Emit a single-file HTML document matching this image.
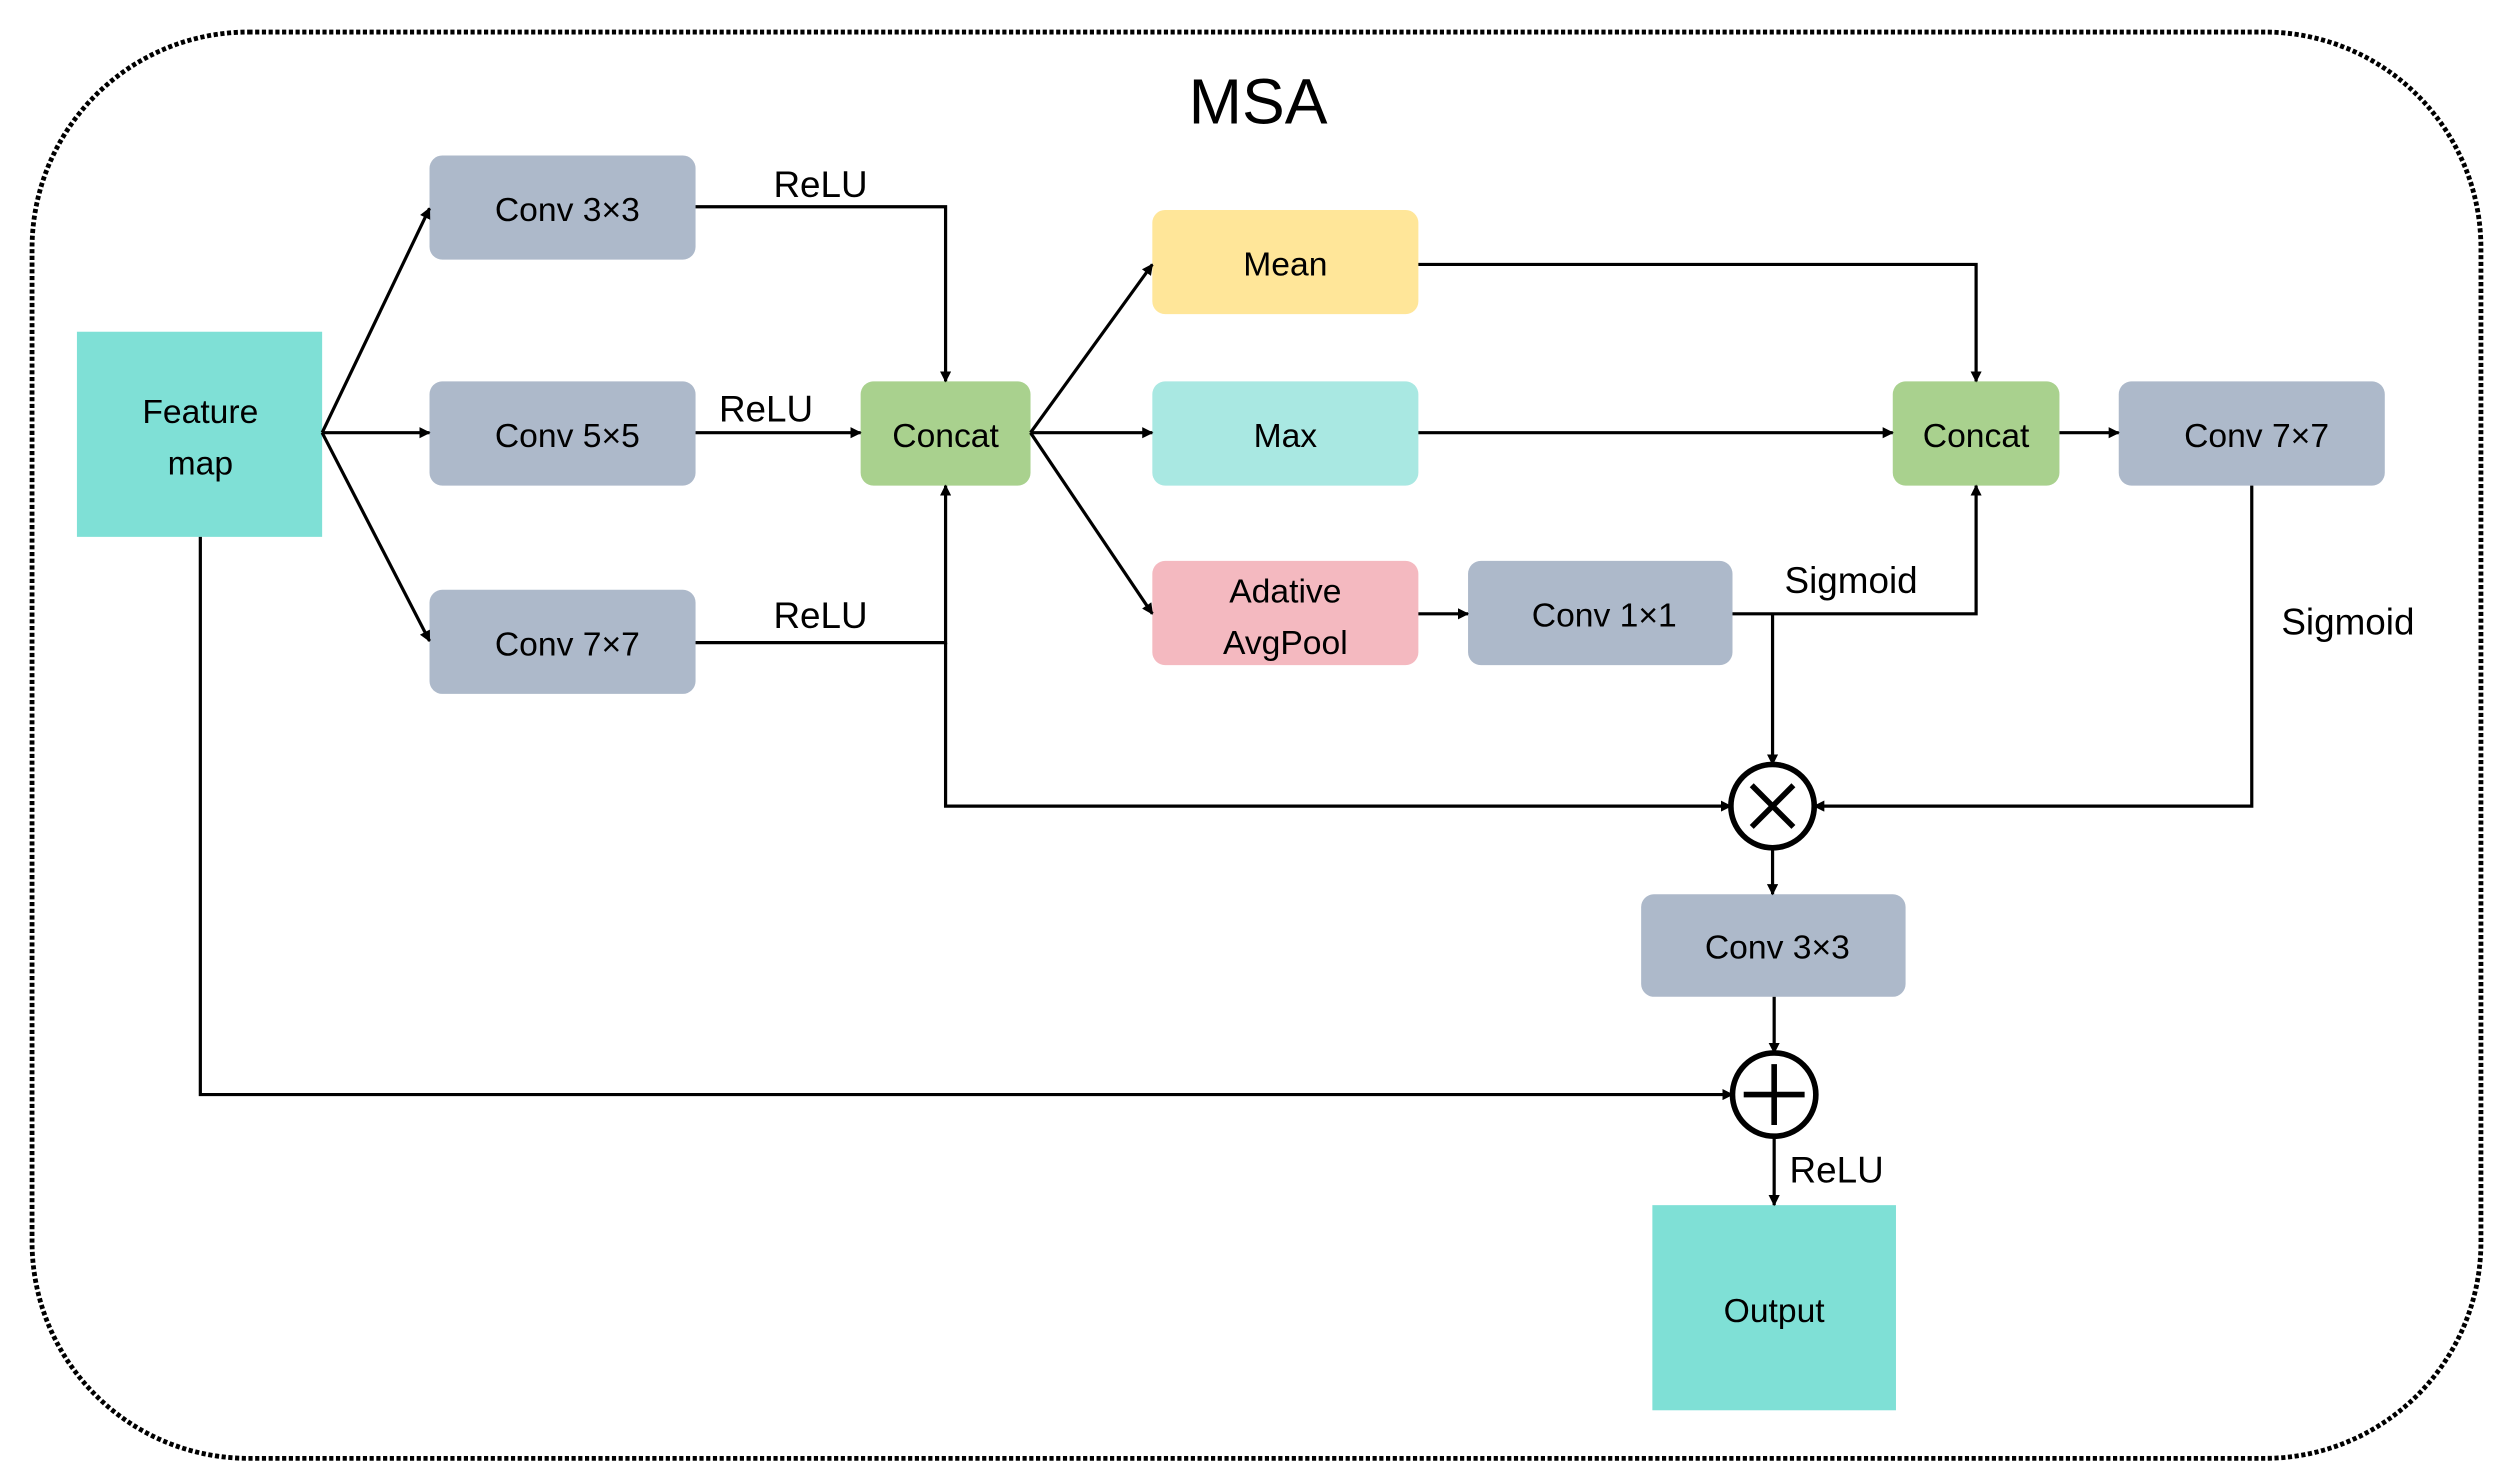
<!DOCTYPE html>
<html><head><meta charset="utf-8"><style>
html,body{margin:0;padding:0;background:#fff;}
svg{display:block;}
text{font-family:"Liberation Sans",sans-serif;fill:#000;}
</style></head><body>
<svg width="2513" height="1484" viewBox="0 0 1568 926" preserveAspectRatio="none" xmlns="http://www.w3.org/2000/svg">
<defs>
<marker id="a" viewBox="0 0 10 10" refX="9" refY="5" markerWidth="7" markerHeight="7" orient="auto" markerUnits="userSpaceOnUse"><path d="M0,0 L10,5 L0,10 z" fill="#000"/></marker>
</defs>
<rect x="20" y="20" width="1528" height="890" rx="135" ry="135" fill="none" stroke="#000" stroke-width="3" stroke-dasharray="2.6 1.6"/>
<text x="785" y="77" font-size="40" text-anchor="middle">MSA</text>

<g font-size="21" text-anchor="middle">
<rect x="48" y="207" width="153" height="128" fill="#7FE0D6"/>
<text x="125" y="264">Feature</text><text x="125" y="296">map</text>
<rect x="268" y="97" width="166" height="65" rx="8" fill="#ADB9CA"/><text x="354" y="138">Conv 3×3</text>
<rect x="268" y="238" width="166" height="65" rx="8" fill="#ADB9CA"/><text x="354" y="279">Conv 5×5</text>
<rect x="268" y="368" width="166" height="65" rx="8" fill="#ADB9CA"/><text x="354" y="409">Conv 7×7</text>
<rect x="537" y="238" width="106" height="65" rx="8" fill="#A9D18E"/><text x="590" y="279">Concat</text>
<rect x="719" y="131" width="166" height="65" rx="8" fill="#FFE699"/><text x="802" y="172">Mean</text>
<rect x="719" y="238" width="166" height="65" rx="8" fill="#A9E8E2"/><text x="802" y="279">Max</text>
<rect x="719" y="350" width="166" height="65" rx="8" fill="#F4B9C0"/><text x="802" y="376">Adative</text><text x="802" y="408">AvgPool</text>
<rect x="916" y="350" width="165" height="65" rx="8" fill="#ADB9CA"/><text x="1001" y="391">Conv 1×1</text>
<rect x="1181" y="238" width="104" height="65" rx="8" fill="#A9D18E"/><text x="1233" y="279">Concat</text>
<rect x="1322" y="238" width="166" height="65" rx="8" fill="#ADB9CA"/><text x="1408" y="279">Conv 7×7</text>
<rect x="1024" y="558" width="165" height="64" rx="8" fill="#ADB9CA"/><text x="1109" y="598">Conv 3×3</text>
<rect x="1031" y="752" width="152" height="128" fill="#7FE0D6"/><text x="1107" y="825">Output</text>
</g>
<g font-size="23" text-anchor="middle">
<text x="512" y="123">ReLU</text>
<text x="478" y="263">ReLU</text>
<text x="512" y="392">ReLU</text>
<text x="1155" y="370">Sigmoid</text>
<text x="1465" y="396">Sigmoid</text>
<text x="1146" y="738">ReLU</text>
</g>

<g fill="none" stroke="#000" stroke-width="2">
<line x1="201" y1="270" x2="268" y2="130" marker-end="url(#a)"/>
<line x1="201" y1="270" x2="268" y2="270" marker-end="url(#a)"/>
<line x1="201" y1="270" x2="268" y2="400" marker-end="url(#a)"/>
<polyline points="434,129 590,129 590,238" marker-end="url(#a)"/>
<line x1="434" y1="270" x2="537" y2="270" marker-end="url(#a)"/>
<polyline points="434,401 590,401 590,303" marker-end="url(#a)"/>
<polyline points="590,401 590,503 1080,503" marker-end="url(#a)"/>
<line x1="643" y1="270" x2="719" y2="165" marker-end="url(#a)"/>
<line x1="643" y1="270" x2="719" y2="270" marker-end="url(#a)"/>
<line x1="643" y1="270" x2="719" y2="383" marker-end="url(#a)"/>
<polyline points="885,165 1233,165 1233,238" marker-end="url(#a)"/>
<line x1="885" y1="270" x2="1181" y2="270" marker-end="url(#a)"/>
<line x1="885" y1="383" x2="916" y2="383" marker-end="url(#a)"/>
<polyline points="1081,383 1233,383 1233,303" marker-end="url(#a)"/>
<line x1="1106" y1="383" x2="1106" y2="477" marker-end="url(#a)"/>
<line x1="1285" y1="270" x2="1322" y2="270" marker-end="url(#a)"/>
<polyline points="1405,303 1405,503 1132,503" marker-end="url(#a)"/>
<line x1="1106" y1="529" x2="1106" y2="558" marker-end="url(#a)"/>
<line x1="1107" y1="622" x2="1107" y2="657" marker-end="url(#a)"/>
<polyline points="125,335 125,683 1081,683" marker-end="url(#a)"/>
<line x1="1107" y1="709" x2="1107" y2="752" marker-end="url(#a)"/>
</g>
<g fill="#fff" stroke="#000" stroke-width="3.5">
<circle cx="1106" cy="503" r="26"/>
<circle cx="1107" cy="683" r="26"/>
</g>
<g stroke="#000" stroke-width="3.5">
<line x1="1093" y1="490" x2="1119" y2="516"/><line x1="1119" y1="490" x2="1093" y2="516"/>
<line x1="1088" y1="683" x2="1126" y2="683"/><line x1="1107" y1="664" x2="1107" y2="702"/>
</g>
</svg>
</body></html>
